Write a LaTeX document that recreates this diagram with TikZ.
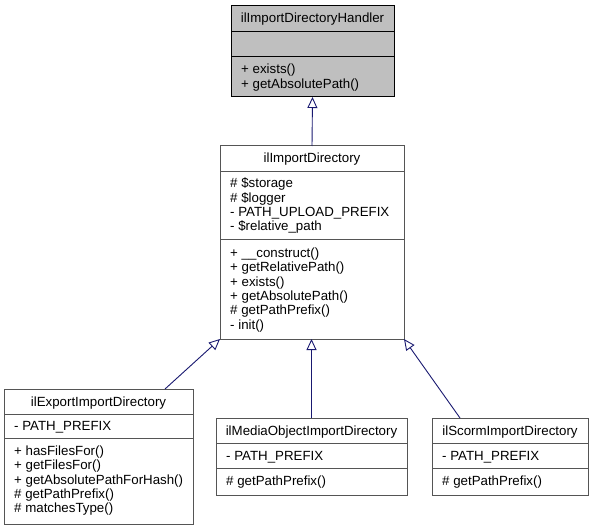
\documentclass[tikz,border=0pt]{standalone}
\usepackage{fontspec}
\setmainfont{Liberation Sans}
\usetikzlibrary{arrows.meta}
\definecolor{edgeblue}{HTML}{191970}
\definecolor{boxline}{HTML}{555555}
\definecolor{hlfill}{HTML}{BFBFBF}
\begin{document}
\begin{tikzpicture}[x=1pt,y=-1pt,
  classbox/.style={draw=boxline, fill=white, line width=1pt, anchor=north west, inner sep=0pt, outer sep=0pt},
  hlbox/.style={classbox, draw=black, fill=hlfill},
  sepline/.style={draw=boxline, line width=1pt},
  hlsep/.style={draw=black, line width=1pt},
  txt/.style={anchor=base west, inner sep=0pt, font=\fontsize{13.3}{14.3}\selectfont},
  ttl/.style={anchor=base, inner sep=0pt, font=\fontsize{13.3}{14.3}\selectfont},
  inherit/.style={draw=edgeblue, line width=0.9pt, -{Triangle[open, length=11pt, width=10pt]}}]
\useasboundingbox (0,0) rectangle (593,529);

% ilImportDirectoryHandler
\node[hlbox, minimum width=163pt, minimum height=91pt] (handler) at (231,6) {};
\draw[hlsep] (231,32) -- (394,32);
\draw[hlsep] (231,57) -- (394,57);
\node[ttl] (handlerT) at (312.5,23) {ilImportDirectoryHandler};
\node[txt] (h1) at (241,74) {+ exists()};
\node[txt] (h2) at (241,88.3) {+ getAbsolutePath()};

% ilImportDirectory
\node[classbox, minimum width=184pt, minimum height=193pt] (imp) at (220,146) {};
\draw[sepline] (220,172) -- (404,172);
\draw[sepline] (220,239) -- (404,239);
\node[ttl] (impT) at (312,163) {ilImportDirectory};
\node[txt] (i1) at (230,188) {\# \$storage};
\node[txt] (i2) at (230,202.3) {\# \$logger};
\node[txt] (i3) at (230,216.6) {- PATH\_UPLOAD\_PREFIX};
\node[txt] (i4) at (230,230.9) {- \$relative\_path};
\node[txt] (i5) at (230,257.5) {+ \_\_construct()};
\node[txt] (i6) at (230,271.8) {+ getRelativePath()};
\node[txt] (i7) at (230,286.1) {+ exists()};
\node[txt] (i8) at (230,300.4) {+ getAbsolutePath()};
\node[txt] (i9) at (230,314.7) {\# getPathPrefix()};
\node[txt] (i10) at (230,329) {- init()};

% ilExportImportDirectory
\node[classbox, minimum width=189pt, minimum height=135pt] (exp) at (4,389) {};
\draw[sepline] (4,414) -- (193,414);
\draw[sepline] (4,438) -- (193,438);
\node[ttl] (expT) at (98.5,406.5) {ilExportImportDirectory};
\node[txt] (e1) at (14,430) {- PATH\_PREFIX};
\node[txt] (e2) at (14,455.5) {+ hasFilesFor()};
\node[txt] (e3) at (14,469.8) {+ getFilesFor()};
\node[txt] (e4) at (14,484.1) {+ getAbsolutePathForHash()};
\node[txt] (e5) at (14,498.4) {\# getPathPrefix()};
\node[txt] (e6) at (14,512.7) {\# matchesType()};

% ilMediaObjectImportDirectory
\node[classbox, minimum width=191pt, minimum height=77pt] (med) at (216,418) {};
\draw[sepline] (216,443) -- (407,443);
\draw[sepline] (216,468) -- (407,468);
\node[ttl] (medT) at (311.5,435.5) {ilMediaObjectImportDirectory};
\node[txt] (m1) at (226,460) {- PATH\_PREFIX};
\node[txt] (m2) at (226,485.5) {\# getPathPrefix()};

% ilScormImportDirectory
\node[classbox, minimum width=156pt, minimum height=77pt] (sco) at (432,418) {};
\draw[sepline] (432,443) -- (588,443);
\draw[sepline] (432,468) -- (588,468);
\node[ttl] (scoT) at (510,435.5) {ilScormImportDirectory};
\node[txt] (s1) at (442,460) {- PATH\_PREFIX};
\node[txt] (s2) at (442,485.5) {\# getPathPrefix()};

% inheritance
\draw[inherit] (imp.north) -- (handler.south);
\draw[inherit] ([xshift=-28pt]exp.north east) -- (imp.south west);
\draw[inherit] (med.north) -- (med.north |- imp.south);
\draw[inherit] ([xshift=28pt]sco.north west) -- (imp.south east);
\end{tikzpicture}
\end{document}
